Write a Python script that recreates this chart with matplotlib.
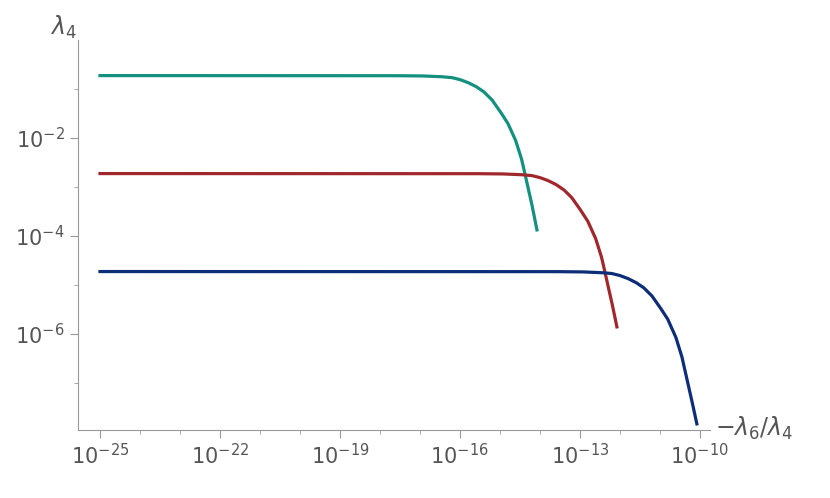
import numpy as np
import matplotlib.pyplot as plt
from matplotlib.ticker import FixedLocator, NullFormatter

# log10 values
green_lx = [-25, -18, -17, -16.5, -16.2, -16, -15.8, -15.6, -15.4, -15.2, -15, -14.8, -14.6, -14.45, -14.33, -14.2, -14.07]
green_ly = [-0.73, -0.73, -0.735, -0.75, -0.77, -0.81, -0.87, -0.95, -1.06, -1.22, -1.45, -1.7, -2.06, -2.45, -2.88, -3.35, -3.88]
red_lx = [-25, -16, -15, -14.5, -14.2, -14, -13.8, -13.6, -13.4, -13.2, -13, -12.8, -12.6, -12.45, -12.33, -12.2, -12.07]
red_ly = [-2.73, -2.73, -2.735, -2.75, -2.77, -2.81, -2.87, -2.95, -3.06, -3.22, -3.45, -3.7, -4.06, -4.45, -4.88, -5.35, -5.86]
blue_lx = [-25, -14, -13, -12.5, -12.2, -12, -11.8, -11.6, -11.4, -11.2, -11, -10.8, -10.6, -10.45, -10.33, -10.2, -10.07]
blue_ly = [-4.73, -4.73, -4.735, -4.75, -4.77, -4.81, -4.87, -4.95, -5.06, -5.22, -5.45, -5.7, -6.06, -6.45, -6.88, -7.35, -7.84]

x_ticks = [-25, -22, -19, -16, -13, -10]
y_ticks = [-2, -4, -6]

def smooth(lx, ly):
    t = np.linspace(lx[0], lx[-1], 800)
    return 10 ** t, 10 ** np.interp(t, lx, ly)

fig = plt.figure(figsize=(8.3, 4.98), dpi=100)
ax = fig.add_axes([0.094, 0.137, 0.761, 0.783])
for lx, ly, c in [(green_lx, green_ly, '#14907e'), (red_lx, red_ly, '#a0282c'), (blue_lx, blue_ly, '#0c2d78')]:
    x, y = smooth(lx, ly)
    ax.plot(x, y, color=c, lw=2.3, solid_joinstyle='round')

ax.set_xscale('log')
ax.set_yscale('log')
ax.set_xlim(10 ** -25.55, 10 ** -9.75)
ax.set_ylim(10 ** -7.96, 1)
ax.xaxis.set_major_locator(FixedLocator([10.0 ** k for k in x_ticks]))
ax.xaxis.set_minor_locator(FixedLocator([10.0 ** k for k in range(-25, -9)]))
ax.yaxis.set_major_locator(FixedLocator([10.0 ** k for k in y_ticks]))
ax.yaxis.set_minor_locator(FixedLocator([10.0 ** k for k in [-1, -3, -5, -7, -8]]))
ax.xaxis.set_minor_formatter(NullFormatter())
ax.yaxis.set_minor_formatter(NullFormatter())
for s in ['top', 'right']:
    ax.spines[s].set_visible(False)
for s in ['left', 'bottom']:
    ax.spines[s].set_color('#999999')
ax.tick_params(which='both', colors='#999999', labelcolor='#555555', labelsize=15)
ax.tick_params(which='major', length=6)
ax.tick_params(which='minor', length=3)
fig.text(0.06, 0.93, r'$\lambda_4$', fontsize=17, color='#555555')
fig.text(0.862, 0.125, r'$-\lambda_6/\lambda_4$', fontsize=17, color='#555555')
fig.savefig('out.png')
